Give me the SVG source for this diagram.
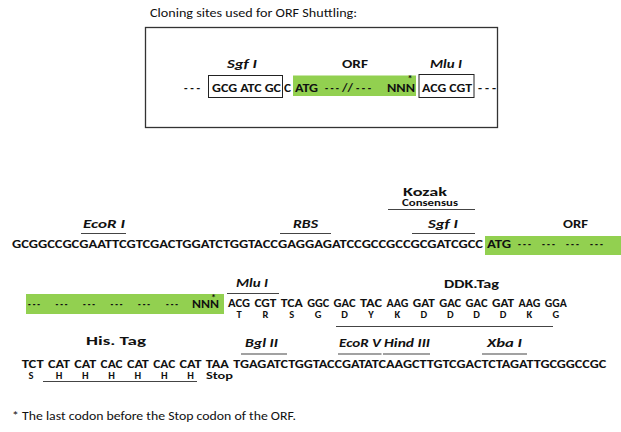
<svg xmlns="http://www.w3.org/2000/svg" width="621" height="432" viewBox="0 0 621 432">
<style>
text{font-family:Carlito,Lato,"Liberation Sans",sans-serif;fill:#111}
.b{font-weight:bold;font-size:11.5px}
.s{font-weight:bold;font-size:11px}
.lab{font-weight:bold;font-size:12.5px}
.en{font-weight:bold;font-style:italic;font-size:12.5px}
.reg{font-size:12.5px}
.ast{font-weight:bold;font-size:10px;text-anchor:middle}
.aa{font-weight:bold;font-size:10.5px;text-anchor:middle}
.ul{stroke:#444;stroke-width:1.2}
.grn{fill:#92D050}
.box{fill:#fff;stroke:#222;stroke-width:1}
</style>
<rect width="621" height="432" fill="#fff"/>
<text class="reg" x="150" y="17" textLength="207" lengthAdjust="spacingAndGlyphs">Cloning sites used for ORF Shuttling:</text>
<g id="shuttle-box">
<rect x="145.5" y="27.5" width="352" height="100" fill="none" stroke="#333" stroke-width="1.3"/>
<text class="b" x="184" y="91.5" textLength="16" lengthAdjust="spacingAndGlyphs">- - -</text>
<g id="top-sgf">
<rect class="box" x="208.5" y="75.5" width="74" height="22"/>
<text class="b" x="212" y="91.5" textLength="69" lengthAdjust="spacingAndGlyphs">GCG ATC GC</text>
<text class="en" x="227" y="68" textLength="30" lengthAdjust="spacingAndGlyphs">Sgf I</text>
</g>
<text class="b" x="284" y="91.5" textLength="7" lengthAdjust="spacingAndGlyphs">C</text>
<g id="top-orf">
<rect class="grn" x="293" y="75.5" width="123" height="20.5"/>
<text class="b" x="295" y="91.5" textLength="23" lengthAdjust="spacingAndGlyphs">ATG</text>
<text class="b" x="325" y="91.5" textLength="14" lengthAdjust="spacingAndGlyphs">- - -</text>
<text class="b" x="342" y="91.5" textLength="11" lengthAdjust="spacingAndGlyphs">//</text>
<text class="b" x="356" y="91.5" textLength="15" lengthAdjust="spacingAndGlyphs">- - -</text>
<text class="b" x="387" y="91.5" textLength="28" lengthAdjust="spacingAndGlyphs">NNN</text>
<text class="ast" x="410" y="82">*</text>
<text class="lab" x="342" y="68" textLength="26" lengthAdjust="spacingAndGlyphs">ORF</text>
</g>
<g id="top-mlu">
<rect class="box" x="419" y="74.5" width="55" height="23"/>
<text class="b" x="422" y="91.5" textLength="50" lengthAdjust="spacingAndGlyphs">ACG CGT</text>
<text class="en" x="430" y="68" textLength="32" lengthAdjust="spacingAndGlyphs">Mlu I</text>
</g>
<text class="b" x="478" y="91.5" textLength="18" lengthAdjust="spacingAndGlyphs">- - -</text>
</g>

<g id="row1">
<text class="b" x="12" y="248" textLength="471" lengthAdjust="spacingAndGlyphs">GCGGCCGCGAATTCGTCGACTGGATCTGGTACCGAGGAGATCCGCCGCCGCGATCGCC</text>
<rect class="grn" x="485" y="236" width="136" height="19"/>
<text class="b" x="487" y="248" textLength="24" lengthAdjust="spacingAndGlyphs">ATG</text>
<text class="b" x="518" y="248" textLength="13" lengthAdjust="spacingAndGlyphs">- - -</text>
<text class="b" x="542" y="248" textLength="13" lengthAdjust="spacingAndGlyphs">- - -</text>
<text class="b" x="566" y="248" textLength="13" lengthAdjust="spacingAndGlyphs">- - -</text>
<text class="b" x="590" y="248" textLength="13" lengthAdjust="spacingAndGlyphs">- - -</text>
<g id="lab-ecori"><text class="en" x="83" y="228" textLength="42" lengthAdjust="spacingAndGlyphs">EcoR I</text></g>
<g id="lab-rbs"><text class="en" x="293" y="228" textLength="25" lengthAdjust="spacingAndGlyphs">RBS</text></g>
<g id="lab-kozak">
<text class="lab" x="403" y="196" textLength="44" lengthAdjust="spacingAndGlyphs">Kozak</text>
<text class="s" x="402" y="205.5" style="font-size:9px" textLength="56" lengthAdjust="spacingAndGlyphs">Consensus</text>
</g>
<g id="lab-sgf"><text class="en" x="428" y="228" textLength="30" lengthAdjust="spacingAndGlyphs">Sgf I</text></g>
<g id="lab-orf"><text class="lab" x="563" y="228" textLength="25" lengthAdjust="spacingAndGlyphs">ORF</text></g>
</g>

<g id="row2">
<rect class="grn" x="26" y="294" width="198" height="20"/>
<text class="b" x="28" y="307.5" textLength="12" lengthAdjust="spacingAndGlyphs">- - -</text>
<text class="b" x="55.5" y="307.5" textLength="12" lengthAdjust="spacingAndGlyphs">- - -</text>
<text class="b" x="83" y="307.5" textLength="12" lengthAdjust="spacingAndGlyphs">- - -</text>
<text class="b" x="110.5" y="307.5" textLength="12" lengthAdjust="spacingAndGlyphs">- - -</text>
<text class="b" x="138" y="307.5" textLength="12" lengthAdjust="spacingAndGlyphs">- - -</text>
<text class="b" x="166" y="307.5" textLength="12" lengthAdjust="spacingAndGlyphs">- - -</text>
<text class="b" x="192" y="307.5" textLength="27" lengthAdjust="spacingAndGlyphs">NNN</text>
<text class="ast" x="213.5" y="300.5">*</text>
<g id="lab-mlu"><text class="en" x="236" y="287" textLength="32" lengthAdjust="spacingAndGlyphs">Mlu I</text></g>
<g id="lab-ddk"><text class="lab" x="444" y="288" textLength="55" lengthAdjust="spacingAndGlyphs">DDK.Tag</text></g>
<g class="s">
<text x="228" y="307" textLength="22" lengthAdjust="spacingAndGlyphs">ACG</text>
<text x="254.4" y="307" textLength="22" lengthAdjust="spacingAndGlyphs">CGT</text>
<text x="280.8" y="307" textLength="22" lengthAdjust="spacingAndGlyphs">TCA</text>
<text x="307.2" y="307" textLength="22" lengthAdjust="spacingAndGlyphs">GGC</text>
<text x="333.6" y="307" textLength="22" lengthAdjust="spacingAndGlyphs">GAC</text>
<text x="360" y="307" textLength="22" lengthAdjust="spacingAndGlyphs">TAC</text>
<text x="386.4" y="307" textLength="22" lengthAdjust="spacingAndGlyphs">AAG</text>
<text x="412.8" y="307" textLength="22" lengthAdjust="spacingAndGlyphs">GAT</text>
<text x="439.2" y="307" textLength="22" lengthAdjust="spacingAndGlyphs">GAC</text>
<text x="465.6" y="307" textLength="22" lengthAdjust="spacingAndGlyphs">GAC</text>
<text x="492" y="307" textLength="22" lengthAdjust="spacingAndGlyphs">GAT</text>
<text x="518.4" y="307" textLength="22" lengthAdjust="spacingAndGlyphs">AAG</text>
<text x="544.8" y="307" textLength="22" lengthAdjust="spacingAndGlyphs">GGA</text>
</g>
<g class="aa">
<text x="239" y="318">T</text>
<text x="265.4" y="318">R</text>
<text x="291.8" y="318">S</text>
<text x="318.2" y="318">G</text>
<text x="344.6" y="318">D</text>
<text x="371" y="318">Y</text>
<text x="397.4" y="318">K</text>
<text x="423.8" y="318">D</text>
<text x="450.2" y="318">D</text>
<text x="476.6" y="318">D</text>
<text x="503" y="318">D</text>
<text x="529.4" y="318">K</text>
<text x="555.8" y="318">G</text>
</g>
</g>

<g id="row3">
<g id="lab-his"><text class="lab" x="86" y="345" textLength="60" lengthAdjust="spacingAndGlyphs">His. Tag</text></g>
<g id="lab-bgl"><text class="en" x="245" y="346.5" textLength="33" lengthAdjust="spacingAndGlyphs">Bgl II</text></g>
<g id="lab-ecorv"><text class="en" x="339" y="346.5" textLength="42" lengthAdjust="spacingAndGlyphs">EcoR V</text></g>
<g id="lab-hind"><text class="en" x="384" y="346.5" textLength="46" lengthAdjust="spacingAndGlyphs">Hind III</text></g>
<g id="lab-xba"><text class="en" x="487" y="346.5" textLength="35" lengthAdjust="spacingAndGlyphs">Xba I</text></g>
<g class="s">
<text x="21.7" y="368" textLength="22" lengthAdjust="spacingAndGlyphs">TCT</text>
<text x="48" y="368" textLength="22" lengthAdjust="spacingAndGlyphs">CAT</text>
<text x="74.3" y="368" textLength="22" lengthAdjust="spacingAndGlyphs">CAT</text>
<text x="100.6" y="368" textLength="22" lengthAdjust="spacingAndGlyphs">CAC</text>
<text x="126.9" y="368" textLength="22" lengthAdjust="spacingAndGlyphs">CAT</text>
<text x="153.2" y="368" textLength="22" lengthAdjust="spacingAndGlyphs">CAC</text>
<text x="179.5" y="368" textLength="22" lengthAdjust="spacingAndGlyphs">CAT</text>
<text x="205.8" y="368" textLength="23" lengthAdjust="spacingAndGlyphs">TAA</text>
<text x="233.3" y="368" textLength="373" lengthAdjust="spacingAndGlyphs">TGAGATCTGGTACCGATATCAAGCTTGTCGACTCTAGATTGCGGCCGC</text>
</g>
<g class="aa">
<text x="31" y="378.5">S</text>
<text x="59" y="378.5">H</text>
<text x="85.3" y="378.5">H</text>
<text x="111.6" y="378.5">H</text>
<text x="137.9" y="378.5">H</text>
<text x="164.2" y="378.5">H</text>
<text x="190.5" y="378.5">H</text>
<text x="206" y="378.5" style="text-anchor:start" textLength="27" lengthAdjust="spacingAndGlyphs">Stop</text>
</g>
</g>

<g id="connectors">
<line class="ul" x1="388" y1="209.5" x2="475" y2="209.5"/>
<line class="ul" x1="81" y1="233.5" x2="126" y2="233.5"/>
<line class="ul" x1="280" y1="233.5" x2="331" y2="233.5"/>
<line class="ul" x1="412" y1="233.5" x2="475" y2="233.5"/>
<line class="ul" x1="227" y1="293.5" x2="279" y2="293.5"/>
<line class="ul" x1="336" y1="326.5" x2="553" y2="326.5"/>
<line class="ul" x1="241" y1="354" x2="287" y2="354"/>
<line class="ul" x1="338" y1="354" x2="381.5" y2="354"/>
<line class="ul" x1="383" y1="354" x2="430" y2="354"/>
<line class="ul" x1="482" y1="354" x2="527" y2="354"/>
<line class="ul" x1="43" y1="381.5" x2="197" y2="381.5"/>
</g>

<text class="reg" x="12" y="420" textLength="284" lengthAdjust="spacingAndGlyphs">* The last codon before the Stop codon of the ORF.</text>
</svg>
